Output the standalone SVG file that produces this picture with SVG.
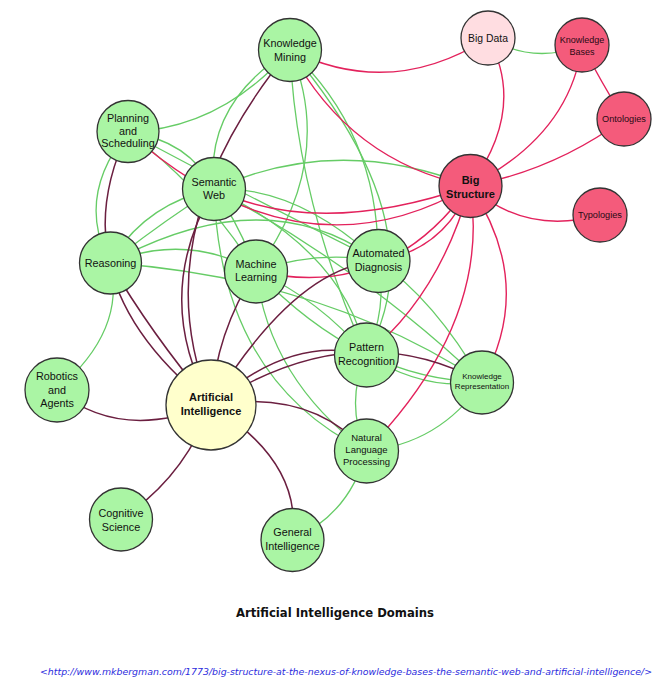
<svg xmlns="http://www.w3.org/2000/svg" width="664" height="686" viewBox="0 0 664 686">
<style>
.g{fill:none;stroke:#66cc66;stroke-width:1.3}
.r{fill:none;stroke:#e3225c;stroke-width:1.4}
.m{fill:none;stroke:#6b1f40;stroke-width:1.5}
.ng{fill:#aaf5a4;stroke:#333;stroke-width:1.3}
.nr{fill:#f45b7b;stroke:#333;stroke-width:1.3}
.nb{fill:#ffdde1;stroke:#333;stroke-width:1.3}
.na{fill:#ffffcc;stroke:#333;stroke-width:1.3}
text{font-family:"Liberation Sans",Arial,sans-serif;fill:#111;text-anchor:middle}
.t{font-size:10.8px}
.tb{font-size:11px;font-weight:bold}
.ts{font-size:9.2px;fill:#2a0a14}
</style>
<rect width="664" height="686" fill="#fff"/>
<g id="connectors">
<path class="g" d="M488,38 Q535,65 582,45"/>
<path class="g" d="M290,50 Q221,129 128,132"/>
<path class="g" d="M290,50 Q204,104 214,189"/>
<path class="g" d="M290,50 Q337,160 256,271"/>
<path class="g" d="M290,50 Q296,198 366,355"/>
<path class="g" d="M290,50 Q380,134 378,261"/>
<path class="g" d="M290,50 Q440,228 366,355"/>
<path class="g" d="M378,261 Q388,308 366,355"/>
<path class="g" d="M128,132 Q75,197 110,263"/>
<path class="g" d="M128,132 Q189,140 214,189"/>
<path class="g" d="M128,132 Q245,195 378,261"/>
<path class="g" d="M128,132 Q205,190 256,271"/>
<path class="g" d="M110,263 Q144,204 214,189"/>
<path class="g" d="M110,263 Q162,222 214,189"/>
<path class="g" d="M110,263 Q266,178 378,261"/>
<path class="g" d="M110,263 Q185,232 256,271"/>
<path class="g" d="M110,263 Q324,278 482,382"/>
<path class="g" d="M110,263 Q127,330 57,390"/>
<path class="g" d="M214,189 Q338,133 470,186"/>
<path class="g" d="M214,189 Q296,185 378,261"/>
<path class="g" d="M214,189 Q220,380 366,451"/>
<path class="g" d="M256,271 Q269,379 366,451"/>
<path class="g" d="M214,189 Q240,225 256,271"/>
<path class="g" d="M214,189 Q346,252 366,355"/>
<path class="g" d="M214,189 Q365,270 482,382"/>
<path class="g" d="M378,261 Q434,299 482,382"/>
<path class="g" d="M366,355 Q426,392 482,382"/>
<path class="g" d="M256,271 Q360,380 482,382"/>
<path class="g" d="M366,355 Q345,403 366,451"/>
<path class="g" d="M256,271 Q320,300 366,355"/>
<path class="g" d="M366,451 Q440,444 482,382"/>
<path class="g" d="M366,451 Q351,513 292,540"/>
<path class="g" d="M256,271 Q317,250 378,261"/>
<path class="r" d="M290,50 Q391,100 488,38"/>
<path class="r" d="M290,50 Q350,162 470,186"/>
<path class="r" d="M488,38 Q527,108 470,186"/>
<path class="r" d="M582,45 Q570,135 470,186"/>
<path class="r" d="M582,45 Q600,80 624,119"/>
<path class="r" d="M624,119 Q555,170 470,186"/>
<path class="r" d="M470,186 Q525,236 600,215"/>
<path class="r" d="M128,132 Q301,285 470,186"/>
<path class="r" d="M214,189 Q318,239 470,186"/>
<path class="r" d="M256,271 Q387,302 470,186"/>
<path class="r" d="M378,261 Q445,250 470,186"/>
<path class="r" d="M366,355 Q440,295 470,186"/>
<path class="r" d="M366,451 Q492,322 470,186"/>
<path class="r" d="M482,382 Q536,284 470,186"/>
<path class="m" d="M290,50 Q140,232 211,405"/>
<path class="m" d="M214,189 Q151,297 211,405"/>
<path class="m" d="M128,132 Q56,282 211,405"/>
<path class="m" d="M110,263 Q150,332 211,405"/>
<path class="m" d="M256,271 Q216,332 211,405"/>
<path class="m" d="M378,261 Q295,267 211,405"/>
<path class="m" d="M211,405 Q291,334 366,355"/>
<path class="m" d="M211,405 Q353,312 482,382"/>
<path class="m" d="M211,405 Q311,388 366,451"/>
<path class="m" d="M211,405 Q120,442 57,390"/>
<path class="m" d="M211,405 Q184,478 121,519"/>
<path class="m" d="M211,405 Q304,463 292,540"/>
</g>
<g id="knowledge-mining"><circle class="ng" cx="290" cy="50" r="31.5"/><text class="t" x="290" y="47">Knowledge</text><text class="t" x="290" y="60.5">Mining</text></g>
<g id="big-data"><circle class="nb" cx="488" cy="38" r="27"/><text class="t" x="488" y="41.5" style="font-size:10.4px">Big Data</text></g>
<g id="knowledge-bases"><circle class="nr" cx="582" cy="45" r="27"/><text class="ts" x="582" y="43" style="font-size:9px">Knowledge</text><text class="ts" x="582" y="55" style="font-size:9px">Bases</text></g>
<g id="ontologies"><circle class="nr" cx="624" cy="119" r="27"/><text class="ts" x="624" y="122">Ontologies</text></g>
<g id="big-structure"><circle class="nr" cx="470.5" cy="186" r="31.5"/><text class="tb" x="470.5" y="184">Big</text><text class="tb" x="470.5" y="197.5">Structure</text></g>
<g id="typologies"><circle class="nr" cx="600" cy="215" r="27"/><text class="ts" x="600" y="218">Typologies</text></g>
<g id="planning-and-scheduling"><circle class="ng" cx="128" cy="131.5" r="31"/><text class="t" x="128" y="122">Planning</text><text class="t" x="128" y="134.5">and</text><text class="t" x="128" y="147">Scheduling</text></g>
<g id="semantic-web"><circle class="ng" cx="214" cy="189" r="31.5"/><text class="t" x="214" y="185.5">Semantic</text><text class="t" x="214" y="199">Web</text></g>
<g id="reasoning"><circle class="ng" cx="110.5" cy="263" r="31"/><text class="t" x="110.5" y="266.5">Reasoning</text></g>
<g id="machine-learning"><circle class="ng" cx="256" cy="271.5" r="31.5"/><text class="t" x="256" y="267.5">Machine</text><text class="t" x="256" y="281">Learning</text></g>
<g id="automated-diagnosis"><circle class="ng" cx="378.5" cy="261" r="31.5"/><text class="t" x="378.5" y="257">Automated</text><text class="t" x="378.5" y="270.5">Diagnosis</text></g>
<g id="pattern-recognition"><circle class="ng" cx="366.5" cy="355" r="32"/><text class="t" x="366.5" y="351">Pattern</text><text class="t" x="366.5" y="365">Recognition</text></g>
<g id="knowledge-representation"><circle class="ng" cx="482" cy="382.5" r="31.5"/><text x="482" y="379" style="font-size:8px">Knowledge</text><text x="482" y="389" style="font-size:8px">Representation</text></g>
<g id="natural-language-processing"><circle class="ng" cx="366.5" cy="451" r="32"/><text x="366.5" y="440.5" style="font-size:9.5px">Natural</text><text x="366.5" y="452.5" style="font-size:9.5px">Language</text><text x="366.5" y="464.5" style="font-size:9.5px">Processing</text></g>
<g id="general-intelligence"><circle class="ng" cx="292.5" cy="540" r="31.5"/><text class="t" x="292.5" y="536">General</text><text class="t" x="292.5" y="550">Intelligence</text></g>
<g id="cognitive-science"><circle class="ng" cx="121" cy="519.5" r="31.5"/><text class="t" x="121" y="517">Cognitive</text><text class="t" x="121" y="531">Science</text></g>
<g id="robotics-and-agents"><circle class="ng" cx="57" cy="390" r="32"/><text class="t" x="57" y="380">Robotics</text><text class="t" x="57" y="393.5">and</text><text class="t" x="57" y="407">Agents</text></g>
<g id="artificial-intelligence"><circle class="na" cx="211" cy="405" r="45"/><text class="tb" x="211" y="401">Artificial</text><text class="tb" x="211" y="415">Intelligence</text></g>
<text x="335" y="617" style="font-family:'DejaVu Sans',Verdana,sans-serif;font-size:12px;font-weight:bold" textLength="198" lengthAdjust="spacingAndGlyphs">Artificial Intelligence Domains</text>
<text x="346" y="675" style="font-family:'DejaVu Sans',Verdana,sans-serif;font-size:9.5px;font-style:italic;fill:#2b2bdd" textLength="612" lengthAdjust="spacingAndGlyphs">&lt;http://www.mkbergman.com/1773/big-structure-at-the-nexus-of-knowledge-bases-the-semantic-web-and-artificial-intelligence/&gt;</text>
</svg>
